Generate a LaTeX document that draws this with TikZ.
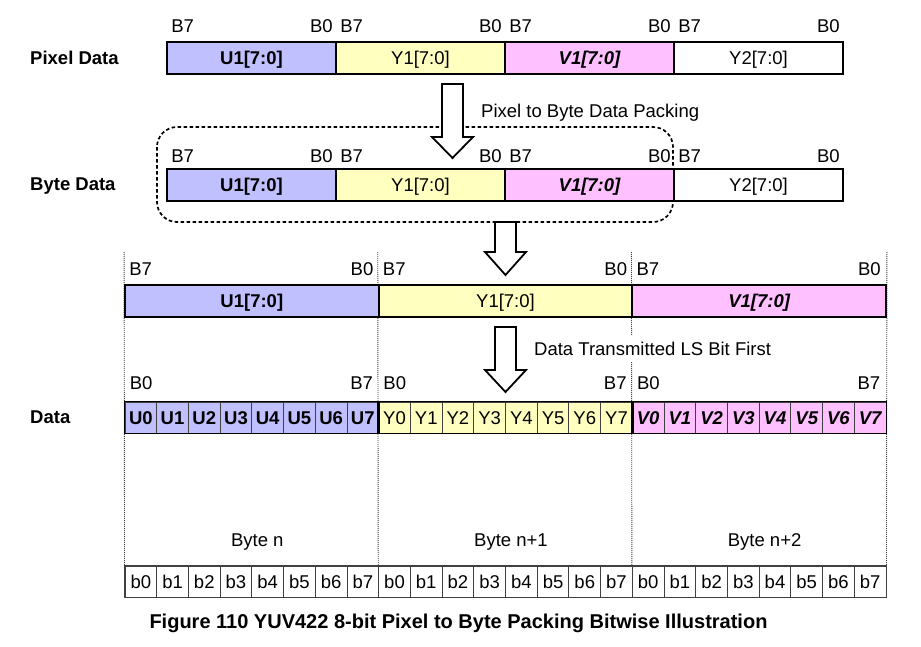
\documentclass[tikz,border=0pt]{standalone}
\usepackage{fontspec}
\setmainfont{Liberation Sans}
\definecolor{cu}{HTML}{C0C0FF}
\definecolor{cy}{HTML}{FFFFC0}
\definecolor{cv}{HTML}{FFC0FF}
\newcommand\fs{\fontsize{18.5}{22}\selectfont}
\newcommand\blockarrow[4]{%
  \draw[bigarrow] (#1-10.5,#2) -- (#1+10.5,#2) -- (#1+10.5,#3) -- (#1+20.5,#3)
    -- (#1,#4) -- (#1-20.5,#3) -- (#1-10.5,#3) -- cycle;}
\begin{document}
\begin{tikzpicture}[x=1pt,y=-1pt,
  txt/.style={font=\fs, inner sep=0pt},
  btxt/.style={font=\fs\bfseries, inner sep=0pt},
  bx/.style={draw=black, line width=1.8pt, minimum height=32pt, inner sep=0pt,
    font=\fs, text height=13.2pt, text depth=0pt},
  bit/.style={draw=black!75, line width=0.9pt, minimum width=31.708pt, minimum height=31pt,
    inner sep=0pt, font=\fs, text height=13.2pt, text depth=0pt},
  vdot/.style={draw=black!75, line width=0.9pt, dash pattern=on 1pt off 1pt},
  bigarrow/.style={draw=black, line width=1.8pt, fill=white, line join=miter},
  grp/.style={draw=black, line width=1.8pt},
]
\useasboundingbox[fill=white] (0,0) rectangle (921,646);

% dashed rounded frame
\draw[line width=1.7pt, dash pattern=on 3.5pt off 2.5pt, rounded corners=20pt]
  (157,127) rectangle (673,222);

% ---------- Row 1: Pixel data
\node[btxt, anchor=base west] (lpix) at (30,64) {Pixel Data};
\node[bx, fill=cu, minimum width=169pt, font=\fs\bfseries] (p1) at (251.5,58) {U1[7:0]};
\node[bx, fill=cy, minimum width=169pt] (p2) at (420.5,58) {Y1[7:0]};
\node[bx, fill=cv, minimum width=169pt, font=\fs\bfseries\itshape] (p3) at (589.5,58) {V1[7:0]};
\node[bx, fill=white, minimum width=169pt] (p4) at (758.5,58) {Y2[7:0]};
\foreach \n in {p1,p2,p3,p4}{
  \node[txt, anchor=base west] at ([xshift=5pt]\n.west |- 0,32) {B7};
  \node[txt, anchor=base east] at ([xshift=-4pt]\n.east |- 0,32) {B0};
}

% arrow 1
\blockarrow{452.5}{84}{137}{158}
\node[txt, anchor=base west] (lpack) at (481,117) {Pixel to Byte Data Packing};

% ---------- Row 2: Byte data
\node[btxt, anchor=base west] (lbyte) at (30,190.7) {Byte Data};
\node[bx, fill=cu, minimum width=169pt, font=\fs\bfseries] (q1) at (251.5,185) {U1[7:0]};
\node[bx, fill=cy, minimum width=169pt] (q2) at (420.5,185) {Y1[7:0]};
\node[bx, fill=cv, minimum width=169pt, font=\fs\bfseries\itshape] (q3) at (589.5,185) {V1[7:0]};
\node[bx, fill=white, minimum width=169pt] (q4) at (758.5,185) {Y2[7:0]};
\foreach \n in {q1,q2,q3,q4}{
  \node[txt, anchor=base west] at ([xshift=5pt]\n.west |- 0,162.5) {B7};
  \node[txt, anchor=base east] at ([xshift=-4pt]\n.east |- 0,162.5) {B0};
}

% arrow 2
\blockarrow{505.5}{222}{252}{275}

% ---------- bottom row cells (defined early for dotted lines)
\foreach \g in {0,1,2}{
  \foreach \i in {0,...,7}{
    \node[bit, fill=white] (b\g\i) at ({125+31.708*(8*\g+\i+0.5)},581.5) {b\i};
  }
}

% ---------- Row 3
\node[bx, fill=cu, minimum width=253.67pt, font=\fs\bfseries] (r1) at (251.83,301) {U1[7:0]};
\node[bx, fill=cy, minimum width=253.67pt] (r2) at (505.5,301) {Y1[7:0]};
\node[bx, fill=cv, minimum width=253.67pt, font=\fs\bfseries\itshape] (r3) at (759.17,301) {V1[7:0]};

% dotted vertical guides
\draw[vdot] ([yshift=32pt]r1.north west) -- (b00.north west);
\draw[vdot] ([yshift=32pt]r2.north west) -- (b10.north west);
\draw[vdot] ([yshift=32pt]r3.north west) -- (b20.north west);
\draw[vdot] ([yshift=32pt]r3.north east) -- (b27.north east);

% redraw row 3 over guides
\node[bx, fill=cu, minimum width=253.67pt, font=\fs\bfseries] at (r1) {U1[7:0]};
\node[bx, fill=cy, minimum width=253.67pt] at (r2) {Y1[7:0]};
\node[bx, fill=cv, minimum width=253.67pt, font=\fs\bfseries\itshape] at (r3) {V1[7:0]};
\foreach \n in {r1,r2,r3}{
  \node[txt, anchor=base west] at ([xshift=5pt]\n.west |- 0,275) {B7};
  \node[txt, anchor=base east] at ([xshift=-6pt]\n.east |- 0,275) {B0};
}

% arrow 3
\blockarrow{505.5}{327}{370}{392}
\node[txt, anchor=base west, fill=white, inner ysep=7pt] (ltx) at (534,355) {Data Transmitted LS Bit First};

% ---------- Data row
\node[btxt, anchor=base west] (ldata) at (30,423) {Data};
\foreach \i in {0,...,7}{
  \node[bit, fill=cu, font=\fs\bfseries] (u\i) at ({125+31.708*(\i+0.5)},417.5) {U\i};
  \node[bit, fill=cy] (y\i) at ({125+31.708*(8+\i+0.5)},417.5) {Y\i};
  \node[bit, fill=cv, font=\fs\bfseries\itshape] (v\i) at ({125+31.708*(16+\i+0.5)},417.5) {V\i};
}
\draw[grp] (u0.north west) rectangle (u7.south east);
\draw[grp] (y0.north west) rectangle (y7.south east);
\draw[grp] (v0.north west) rectangle (v7.south east);
\foreach \a/\b in {u0/u7,y0/y7,v0/v7}{
  \node[txt, anchor=base west] at ([xshift=5pt]\a.west |- 0,389) {B0};
  \node[txt, anchor=base east] at ([xshift=-6pt]\b.east |- 0,389) {B7};
}

% bottom row outline
\draw[draw=black!75, line width=1.1pt] (b00.north west) rectangle (b27.south east);

% Byte labels
\node[txt, anchor=base] (ln0) at ([xshift=5pt]b03.east |- 0,546) {Byte n};
\node[txt, anchor=base] (ln1) at ([xshift=5pt]b13.east |- 0,546) {Byte n+1};
\node[txt, anchor=base] (ln2) at ([xshift=5pt]b23.east |- 0,546) {Byte n+2};

% caption
\node[font=\fontsize{20}{24}\selectfont\bfseries, inner sep=0pt, anchor=base] (cap) at (458.5,628)
  {Figure 110 YUV422 8-bit Pixel to Byte Packing Bitwise Illustration};
\end{tikzpicture}
\end{document}
